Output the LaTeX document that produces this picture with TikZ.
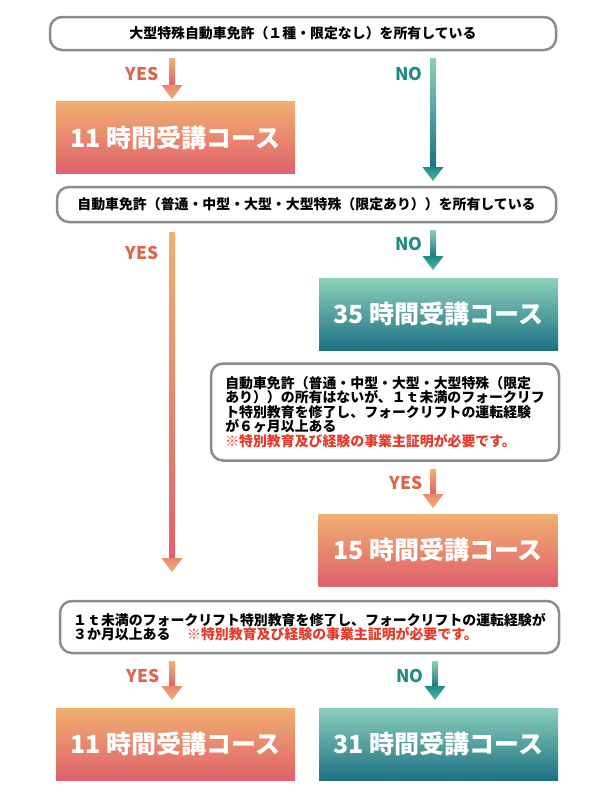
\documentclass[tikz,border=0pt]{standalone}
\usepackage{fontspec}
\setmainfont{Noto Sans CJK JP}
\usetikzlibrary{calc}
\definecolor{bordergray}{HTML}{8C8C8C}
\definecolor{orTop}{HTML}{F0B070}
\definecolor{orMid}{HTML}{E88A6C}
\definecolor{orBot}{HTML}{E0606C}
\definecolor{tlTop}{HTML}{8CD0BA}
\definecolor{tlMid}{HTML}{2FAEA5}
\definecolor{tlBot}{HTML}{1C7185}
\definecolor{yescol}{HTML}{E0644A}
\definecolor{nocol}{HTML}{1E8A82}
\definecolor{notered}{HTML}{E8382A}
\tikzset{
  condbox/.style={draw=bordergray, line width=2.5pt, rounded corners=12pt, fill=white,
    inner sep=0pt, font=\fontsize{13.9}{14.5}\selectfont\bfseries},
  orcourse/.style={rectangle, minimum width=239pt, minimum height=72pt, inner sep=0pt,
    top color=orTop, middle color=orMid, bottom color=orBot, text=white,
    font=\fontsize{25}{28}\selectfont\bfseries},
  tlcourse/.style={orcourse, top color=tlTop, middle color=tlMid, bottom color=tlBot},
  yeslab/.style={text=yescol, font=\fontsize{17.5}{20}\selectfont\bfseries, inner sep=0pt},
  nolab/.style={text=nocol, font=\fontsize{17.5}{20}\selectfont\bfseries, inner sep=0pt},
}
\newcommand\yesarrow[2]{%
  \shade[top color=orTop, bottom color=orBot] ($(#1)+(-3,0)$) rectangle ($(#2)+(3,-13)$);
  \shade[top color=orMid, bottom color=orTop!90!orMid] ($(#2)+(-10.5,-14)$) -- ($(#2)+(10.5,-14)$) -- (#2) -- cycle;
}
\newcommand\noarrow[2]{%
  \shade[top color=tlTop, middle color=tlMid, bottom color=tlBot] ($(#1)+(-3,0)$) rectangle ($(#2)+(3,-13)$);
  \shade[top color=nocol, bottom color=tlMid!70!tlTop] ($(#2)+(-10.5,-14)$) -- ($(#2)+(10.5,-14)$) -- (#2) -- cycle;
}
\begin{document}
\begin{tikzpicture}[x=1pt, y=-1pt]
\useasboundingbox[fill=white] (0,0) rectangle (609,796);

% condition boxes
\node[condbox, minimum width=506pt, minimum height=33pt] (q1) at (303,33.5)
  {大型特殊自動車免許（１種・限定なし）を所有している};
\node[condbox, minimum width=499pt, minimum height=35pt] (q2) at (306.5,204.5)
  {自動車免許（普通・中型・大型・大型特殊（限定あり））を所有している};
\node[condbox, minimum width=348pt, minimum height=97pt, align=left] (q3) at (385,412)
  {自動車免許（普通・中型・大型・大型特殊（限定\\
   あり））の所有はないが、１ｔ未満のフォークリフ\\
   ト特別教育を修了し、フォークリフトの運転経験\\
   が６ヶ月以上ある\\
   \textcolor{notered}{※特別教育及び経験の事業主証明が必要です。}};
\node[condbox, minimum width=499pt, minimum height=52pt, align=left] (q4) at (309.5,627)
  {１ｔ未満のフォークリフト特別教育を修了し、フォークリフトの運転経験が\\
   ３か月以上ある\hspace{1.2em}\textcolor{notered}{※特別教育及び経験の事業主証明が必要です。}};

% course boxes
\node[orcourse] (c11a) at (175.5,137.5) {11 時間受講コース};
\node[tlcourse] (c35) at (438.5,314) {35 時間受講コース};
\node[orcourse] (c15) at (438,550) {15 時間受講コース};
\node[orcourse] (c11b) at (175.5,744) {11 時間受講コース};
\node[tlcourse] (c31) at (438.5,744) {31 時間受講コース};

% arrow end points
\coordinate (a1ys) at (172,58);  \coordinate (a1ye) at (172,99);
\coordinate (a1ns) at (433,58);  \coordinate (a1ne) at (433,181);
\coordinate (a2ys) at (172,232); \coordinate (a2ye) at (172,572);
\coordinate (a2ns) at (433,230); \coordinate (a2ne) at (433,270);
\coordinate (a3ys) at (433,469); \coordinate (a3ye) at (433,508);
\coordinate (a4ys) at (172,661); \coordinate (a4ye) at (172,700);
\coordinate (a4ns) at (435,661); \coordinate (a4ne) at (435,700);

\yesarrow{a1ys}{a1ye}
\noarrow{a1ns}{a1ne}
\yesarrow{a2ys}{a2ye}
\noarrow{a2ns}{a2ne}
\yesarrow{a3ys}{a3ye}
\yesarrow{a4ys}{a4ye}
\noarrow{a4ns}{a4ne}

% labels
\node[yeslab] (l1y) at (142,74) {YES};
\node[nolab] (l1n) at (409,74) {NO};
\node[yeslab] (l2y) at (142,253) {YES};
\node[nolab] (l2n) at (409,244) {NO};
\node[yeslab] (l3y) at (406,483) {YES};
\node[yeslab] (l4y) at (143,676) {YES};
\node[nolab] (l4n) at (410,676) {NO};
\end{tikzpicture}
\end{document}
